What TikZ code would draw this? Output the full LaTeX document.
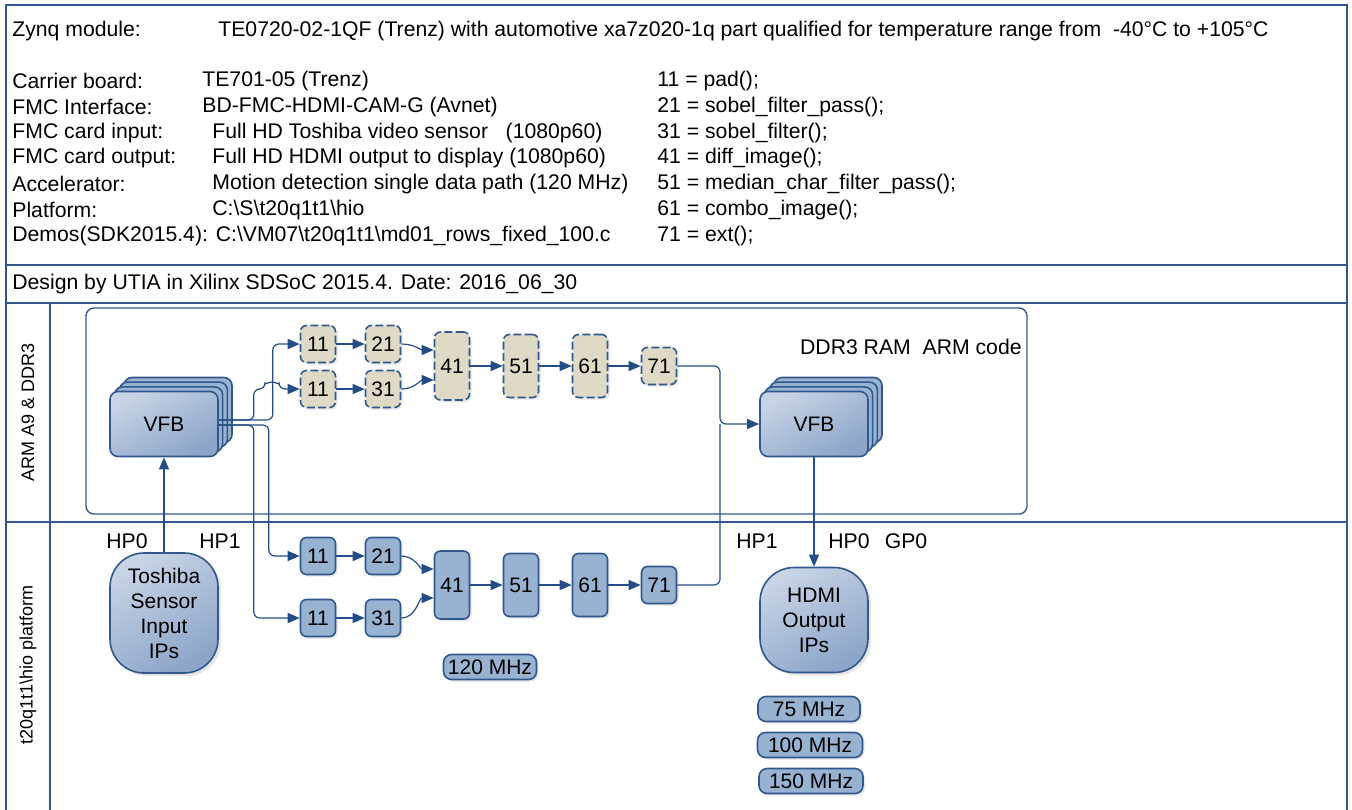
\documentclass[tikz,border=0pt]{standalone}
\usepackage{fontspec}
\setmainfont{Liberation Sans}
\usetikzlibrary{arrows.meta,shadows}

\definecolor{frameblue}{RGB}{50,88,148}
\definecolor{lineblue}{RGB}{36,76,134}
\definecolor{boxline}{RGB}{48,88,140}
\definecolor{boxlight}{RGB}{198,212,230}
\definecolor{boxdark}{RGB}{140,165,200}
\definecolor{boxfill}{RGB}{152,178,210}
\definecolor{tanfill}{RGB}{222,218,198}

\newcommand{\bsl}{\textbackslash}

\tikzset{
  txt/.style={anchor=west, inner sep=0pt, font=\fontsize{10.6}{12}\selectfont},
  sidelbl/.style={rotate=90, inner sep=0pt, font=\fontsize{9}{11}\selectfont},
  frame/.style={draw=frameblue, line width=1pt},
  fn/.style={draw=boxline, line width=0.8pt, rounded corners=3pt,
    minimum width=17.5pt, minimum height=18.5pt, inner sep=1pt,
    font=\fontsize{10.5}{12}\selectfont,
    drop shadow={opacity=0.2, shadow xshift=1pt, shadow yshift=-1pt}},
  hwfn/.style={fn, fill=boxfill},
  swfn/.style={fn, fill=tanfill, dash pattern=on 4pt off 1.6pt},
  vfb/.style={draw=boxline, line width=0.8pt, rounded corners=4pt,
    top color=boxlight, bottom color=boxdark, shading angle=30,
    minimum width=54pt, minimum height=32.5pt,
    font=\fontsize{10.5}{12}\selectfont,
    copy shadow={shadow xshift=7pt, shadow yshift=7pt, fill=boxfill, draw=boxline},
    copy shadow={shadow xshift=4.7pt, shadow yshift=4.7pt, fill=boxfill, draw=boxline},
    copy shadow={shadow xshift=2.3pt, shadow yshift=2.3pt, fill=boxfill, draw=boxline}},
  ipblk/.style={draw=boxline, line width=0.8pt, rounded corners=17pt,
    top color=boxlight, bottom color=boxdark, shading angle=30,
    minimum width=54pt, minimum height=60pt, align=center, inner sep=1pt,
    font=\fontsize{10.5}{12.5}\selectfont,
    drop shadow={opacity=0.2, shadow xshift=1.5pt, shadow yshift=-1.5pt}},
  freq/.style={draw=boxline, line width=0.8pt, rounded corners=4pt,
    fill=boxfill, minimum width=46.5pt, minimum height=12.5pt,
    inner xsep=2pt, inner ysep=0pt, font=\fontsize{10.5}{12}\selectfont,
    drop shadow={opacity=0.2, shadow xshift=1pt, shadow yshift=-1pt}},
  wire/.style={draw=lineblue, line width=0.6pt, rounded corners=3pt},
  flow/.style={wire, -{Triangle[length=6pt,width=5pt]}}
}

\begin{document}
\begin{tikzpicture}[x=0.5pt, y=-0.5pt]
    \useasboundingbox (0,0) rectangle (1352,809);

    % Frame of the table
    \draw[frame] (6,820) -- (6,5) -- (1347,5) -- (1347,820);
    \draw[frame] (6,265) -- (1347,265);
    \draw[frame] (6,303) -- (1347,303);
    \draw[frame] (6,522) -- (1347,522);
    \draw[frame] (50,303) -- (50,820);
    \draw[draw=frameblue, line width=0.7pt, rounded corners=4pt] (86,308) rectangle (1027,514);

    % Header texts
    \node[txt] (zynq) at (12,31) {Zynq module:};
    \node[txt] (module) at (218,31) {TE0720-02-1QF (Trenz) with automotive xa7z020-1q part qualified for temperature range from~ -40°C to +105°C};

    \node[txt] (lbl1) at (12,81) {Carrier board:};
    \node[txt] (lbl2) at (12,107) {FMC Interface:};
    \node[txt] (lbl3) at (12,133) {FMC card input:};
    \node[txt] (lbl4) at (12,158) {FMC card output:};
    \node[txt] (lbl5) at (12,184) {Accelerator:};
    \node[txt] (lbl6) at (12,210) {Platform:};
    \node[txt] (lbl7) at (12,236) {Demos(SDK2015.4): C:\bsl VM07\bsl t20q1t1\bsl md01\_rows\_fixed\_100.c};

    \node[txt] (val1) at (202,81) {TE701-05 (Trenz)};
    \node[txt] (val2) at (202,107) {BD-FMC-HDMI-CAM-G (Avnet)};
    \node[txt] (val3) at (212,133) {Full HD Toshiba video sensor~ ~(1080p60)};
    \node[txt] (val4) at (212,158) {Full HD HDMI output to display (1080p60)};
    \node[txt] (val5) at (212,184) {Motion detection single data path (120 MHz)};
    \node[txt] (val6) at (212,210) {C:\bsl S\bsl t20q1t1\bsl hio};

    \node[txt] (fn11) at (657,81) {11 = pad();};
    \node[txt] (fn21) at (657,107) {21 = sobel\_filter\_pass();};
    \node[txt] (fn31) at (657,133) {31 = sobel\_filter();};
    \node[txt] (fn41) at (657,158) {41 = diff\_image();};
    \node[txt] (fn51) at (657,184) {51 = median\_char\_filter\_pass();};
    \node[txt] (fn61) at (657,210) {61 = combo\_image();};
    \node[txt] (fn71) at (657,236) {71 = ext();};

    \node[txt] (design) at (12,284) {Design by UTIA in Xilinx SDSoC 2015.4. Date: 2016\_06\_30};

    % ARM A9 and DDR3 part
    \node[sidelbl] (armlbl) at (28,412) {ARM A9 \& DDR3};
    \node[vfb] (vfbA) at (164,424) {VFB};
    \node[vfb] (vfbB) at (814,424) {VFB};
    \node[txt, anchor=east] (ddr) at (1022,347) {DDR3 RAM~ ARM code};

    \node[swfn] (ua11) at (318,344) {11};
    \node[swfn] (ua21) at (383,344) {21};
    \node[swfn] (ub11) at (318,389) {11};
    \node[swfn] (ub31) at (383,389) {31};
    \node[swfn, minimum height=34pt] (u41) at (452,366) {41};
    \node[swfn, minimum height=31.5pt] (u51) at (521,366) {51};
    \node[swfn, minimum height=31.5pt] (u61) at (590,366) {61};
    \node[swfn] (u71) at (659,366) {71};

    % Platform part
    \node[sidelbl] (platlbl) at (28,665) {t20q1t1\bsl hio platform};
    \node[txt, anchor=center] (hp0a) at (127,541) {HP0};
    \node[txt, anchor=center] (hp1a) at (220,541) {HP1};
    \node[txt, anchor=center] (hp1b) at (757,541) {HP1};
    \node[txt, anchor=center] (hp0b) at (849,541) {HP0};
    \node[txt, anchor=center] (gp0) at (906,541) {GP0};

    \node[ipblk] (tosh) at (164,613) {Toshiba\\Sensor\\Input\\IPs};
    \node[ipblk, minimum height=52.5pt] (hdmi) at (814,620) {HDMI\\Output\\IPs};

    \node[hwfn] (la11) at (318,556) {11};
    \node[hwfn] (la21) at (383,556) {21};
    \node[hwfn] (lb11) at (318,618) {11};
    \node[hwfn] (lb31) at (383,618) {31};
    \node[hwfn, minimum height=34pt] (l41) at (452,585) {41};
    \node[hwfn, minimum height=31.5pt] (l51) at (521,585) {51};
    \node[hwfn, minimum height=31.5pt] (l61) at (590,585) {61};
    \node[hwfn] (l71) at (659,585) {71};

    \node[freq] (f120) at (490,667) {120 MHz};
    \node[freq, minimum width=51pt] (f75) at (809,709) {75 MHz};
    \node[freq, minimum width=52.5pt] (f100) at (810,745) {100 MHz};
    \node[freq, minimum width=52pt] (f150) at (811,781) {150 MHz};

    % Connections from the input frame buffer
    \draw[flow] ([yshift=2pt]vfbA.east) -- ++(54,0) |- (ua11);
    \draw[flow] ([yshift=2pt]vfbA.east) -- ++(35,0) |- (265,389)
        arc[start angle=180, end angle=360, radius=7] -- (ub11);
    \draw[flow] ([yshift=-0.5pt]vfbA.east) -- ++(35,0) |- (lb11);
    \draw[flow] ([yshift=-0.5pt]vfbA.east) -- ++(50,0) |- (la11);
    \draw[flow] (tosh) -- (vfbA);

    % ARM chain
    \draw[flow] (ua11) -- (ua21);
    \draw[flow] (ub11) -- (ub31);
    \draw[flow] (ua21.east) to[out=0, in=180] ([yshift=8pt]u41.west);
    \draw[flow] (ub31.east) to[out=0, in=180] ([yshift=-7pt]u41.west);
    \draw[flow] (u41) -- (u51);
    \draw[flow] (u51) -- (u61);
    \draw[flow] (u61) -- (u71);

    % Hardware chain
    \draw[flow] (la11) -- (la21);
    \draw[flow] (lb11) -- (lb31);
    \draw[flow] (la21.east) to[out=0, in=180] ([yshift=8pt]l41.west);
    \draw[flow] (lb31.east) to[out=0, in=180] ([yshift=-6.5pt]l41.west);
    \draw[flow] (l41) -- (l51);
    \draw[flow] (l51) -- (l61);
    \draw[flow] (l61) -- (l71);

    % Results into the output frame buffer
    \coordinate (merge) at (720,424);
    \draw[flow] (u71) -| (merge) -- (vfbB);
    \draw[wire] (l71) -| (merge);
    \draw[flow] (vfbB) -- (hdmi);
\end{tikzpicture}
\end{document}
